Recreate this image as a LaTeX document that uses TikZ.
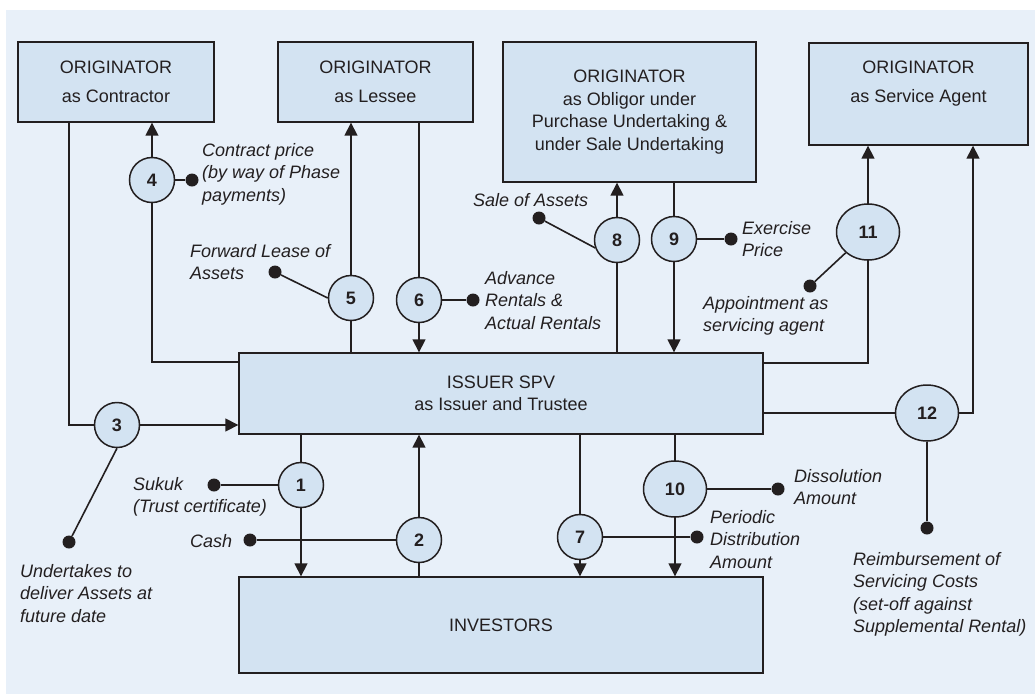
\documentclass[tikz,border=0pt]{standalone}
\usepackage{fontspec}
\setmainfont{Liberation Sans}
\usetikzlibrary{arrows.meta,shapes.geometric}
\definecolor{panel}{HTML}{E8F0F9}
\definecolor{boxfill}{HTML}{D3E3F2}
\definecolor{ink}{HTML}{231F20}
\pgfdeclarelayer{back}
\pgfsetlayers{back,main}
\begin{document}
\begin{tikzpicture}[x=1pt,y=-1pt,
  party/.style={draw=ink,line width=1.4pt,fill=boxfill,inner sep=0pt,align=center,
    font=\fontsize{18}{22.5}\selectfont,text=ink},
  boxtext/.style={inner sep=0pt,align=center,font=\fontsize{18}{22.5}\selectfont,text=ink},
  num/.style={circle,draw=ink,line width=1.5pt,fill=boxfill,minimum size=45pt,inner sep=0pt,
    font=\fontsize{18}{22}\selectfont\bfseries,text=ink},
  numw/.style={ellipse,draw=ink,line width=1.5pt,fill=boxfill,minimum width=63pt,minimum height=56pt,
    inner sep=0pt,font=\fontsize{18}{22}\selectfont\bfseries,text=ink},
  flow/.style={draw=ink,line width=1.6pt,-{Triangle[length=13pt,width=13pt]}},
  stub/.style={draw=ink,line width=1.6pt},
  dot/.style={circle,fill=ink,minimum size=13pt,inner sep=0pt},
  note/.style={anchor=north west,inner sep=0pt,align=left,
    font=\fontsize{18}{22.5}\selectfont\itshape,text=ink}
]
\useasboundingbox (0,0) rectangle (1035,694);
\begin{pgfonlayer}{back}
  \fill[white] (0,0) rectangle (1035,694);
  \fill[panel] (6,10) rectangle (1035,694);
\end{pgfonlayer}

% parties
\node[party,minimum width=196pt,minimum height=80pt] (con) at (116,82) {ORIGINATOR\\[6pt]as Contractor};
\node[party,minimum width=195pt,minimum height=80pt] (les) at (375.5,82) {ORIGINATOR\\[6pt]as Lessee};
\node[party,minimum width=253pt,minimum height=140pt] (obl) at (629.5,112)
  {ORIGINATOR\\as Obligor under\\Purchase Undertaking \&\\under Sale Undertaking};
\node[party,minimum width=219pt,minimum height=102pt] (sag) at (918.5,94) {};
\node[boxtext] (sagtxt) at (918.5,83.5) {ORIGINATOR\\[6pt]as Service Agent};
\node[party,minimum width=524pt,minimum height=81pt] (iss) at (501,393.5) {ISSUER SPV\\as Issuer and Trustee};
\node[party,minimum width=524pt,minimum height=96pt] (inv) at (501,625) {INVESTORS};

% numbered steps
\node[num] (c1) at (301,485) {1};
\node[num] (c2) at (419,540) {2};
\node[num] (c3) at (117,425) {3};
\node[num] (c4) at (152,180) {4};
\node[num] (c5) at (351,298) {5};
\node[num] (c6) at (419,300) {6};
\node[num] (c7) at (580,537) {7};
\node[num] (c8) at (617,240) {8};
\node[num] (c9) at (674,239) {9};
\node[numw] (c10) at (675,489) {10};
\node[numw] (c11) at (868,232) {11};
\node[numw] (c12) at (927,413) {12};

% label dots
\node[dot] (d1) at (214,485) {};
\node[dot] (d2) at (250,540) {};
\node[dot] (d3) at (69,542) {};
\node[dot] (d4) at (192,180) {};
\node[dot] (d5) at (275,272) {};
\node[dot] (d6) at (473,300) {};
\node[dot] (d7) at (697,537) {};
\node[dot] (d8) at (539,218) {};
\node[dot] (d9) at (731,239) {};
\node[dot] (d10) at (778,489) {};
\node[dot] (d11) at (810,286) {};
\node[dot] (d12) at (927,528) {};

% bend points
\coordinate (k3) at (69,425);
\coordinate (k4) at (152,362);
\coordinate (k11) at (868,363);
\coordinate (k12) at (973,413);

\begin{pgfonlayer}{back}
  \draw[flow] (con.south -| k3) -- (k3) -- (k3 -| iss.west);
  \draw[flow] (k4 -| iss.west) -- (k4) -- (k4 |- con.south);
  \draw[flow] (c5 |- iss.north) -- (c5 |- les.south);
  \draw[flow] (c6 |- les.south) -- (c6 |- iss.north);
  \draw[flow] (c8 |- iss.north) -- (c8 |- obl.south);
  \draw[flow] (c9 |- obl.south) -- (c9 |- iss.north);
  \draw[flow] (k11 -| iss.east) -- (k11) -- (k11 |- sag.south);
  \draw[flow] (c12 -| iss.east) -- (k12) -- (k12 |- sag.south);
  \draw[flow] (c1 |- iss.south) -- (c1 |- inv.north);
  \draw[flow] (c2 |- inv.north) -- (c2 |- iss.south);
  \draw[flow] (c7 |- iss.south) -- (c7 |- inv.north);
  \draw[flow] (c10 |- iss.south) -- (c10 |- inv.north);

  \draw[stub] (d1) -- (c1);
  \draw[stub] (d2) -- (c2);
  \draw[stub] (d3) -- (c3.south);
  \draw[stub] (d4) -- (c4);
  \draw[stub] (d5) -- (c5.west);
  \draw[stub] (d6) -- (c6);
  \draw[stub] (d7) -- (c7);
  \draw[stub] (d8) -- (c8.200);
  \draw[stub] (d9) -- (c9);
  \draw[stub] (d10) -- (c10);
  \draw[stub] (d11) -- (c11);
  \draw[stub] (d12) -- (c12);
\end{pgfonlayer}

% labels
\node[note] (l1) at (133,477) {Sukuk\\(Trust certificate)};
\node[note] (l2) at (190,534) {Cash};
\node[note] (l3) at (20,564) {Undertakes to\\deliver Assets at\\future date};
\node[note] (l4) at (202,143) {Contract price\\(by way of Phase\\payments)};
\node[note] (l5) at (190,244) {Forward Lease of\\Assets};
\node[note] (l6) at (485,271) {Advance\\Rentals \&\\Actual Rentals};
\node[note] (l7) at (710,510) {Periodic\\Distribution\\Amount};
\node[note] (l8) at (473,193) {Sale of Assets};
\node[note] (l9) at (742,221) {Exercise\\Price};
\node[note] (l10) at (794,469) {Dissolution\\Amount};
\node[note] (l11) at (703,296) {Appointment as\\servicing agent};
\node[note] (l12) at (853,552) {Reimbursement of\\Servicing Costs\\(set-off against\\Supplemental Rental)};
\end{tikzpicture}
\end{document}
